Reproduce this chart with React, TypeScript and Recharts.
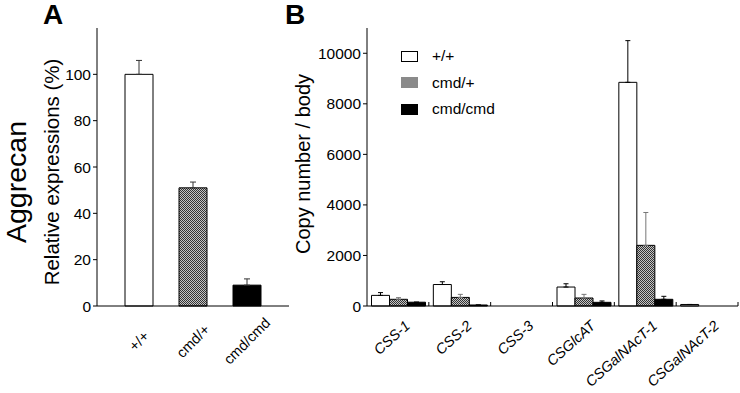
import React from 'react';
import { BarChart, Bar, XAxis, YAxis, Cell, ErrorBar, Legend } from 'recharts';

// Panel A: aggrecan, relative expression (%)
const genotypes = ['+/+', 'cmd/+', 'cmd/cmd'];
const aggrecanValues = [100, 51, 9];
const aggrecanErrors = [6, 2.5, 2.7];
const aggrecanTicks = [0, 20, 40, 60, 80, 100];

// Panel B: copy number / body per gene
const genes = ['CSS-1', 'CSS-2', 'CSS-3', 'CSGlcAT', 'CSGalNAcT-1', 'CSGalNAcT-2'];
const wildType = [420, 850, 0, 750, 8850, 60];
const wildTypeErr = [110, 110, 0, 130, 1650, 0];
const heterozygous = [265, 340, 0, 316, 2400, 0];
const heterozygousErr = [65, 120, 0, 144, 1300, 0];
const homozygous = [150, 40, 0, 145, 265, 0];
const homozygousErr = [0, 0, 0, 55, 118, 0];
const copyTicks = [0, 2000, 4000, 6000, 8000, 10000];

const FONT = '"Liberation Sans", Arial, Helvetica, sans-serif';

const aggrecanData = genotypes.map((g, i) => ({
  name: g,
  value: aggrecanValues[i],
  err: [0, aggrecanErrors[i]],
}));
const aggrecanFills = ['#fff', 'url(#dotsA)', '#000'];

const geneData = genes.map((g, i) => ({
  name: g,
  wt: wildType[i],
  wtErr: [0, wildTypeErr[i]],
  het: heterozygous[i],
  hetErr: [0, heterozygousErr[i]],
  hom: homozygous[i],
  homErr: [0, homozygousErr[i]],
}));

const series = [
  { key: 'wt', err: 'wtErr', name: '+/+', fill: '#fff', legend: '#fff', errColor: '#000' },
  { key: 'het', err: 'hetErr', name: 'cmd/+', fill: 'url(#dotsB)', legend: '#8a8a8a', errColor: '#777' },
  { key: 'hom', err: 'homErr', name: 'cmd/cmd', fill: '#000', legend: '#000', errColor: '#000' },
];

const Dots = ({ id }: { id: string }) => (
  <defs>
    <pattern id={id} width={2} height={2} patternUnits="userSpaceOnUse">
      <rect width={2} height={2} fill="#c4c4c4" />
      <rect width={1} height={1} fill="#333" />
      <rect x={1} y={1} width={1} height={1} fill="#333" />
    </pattern>
  </defs>
);

const GenotypeTick = ({ x, y, payload }: any) => (
  <text
    x={x}
    y={y + 35}
    textAnchor="middle"
    dominantBaseline="central"
    transform={`rotate(-45, ${x}, ${y + 35})`}
    fontSize={14.5}
    fill="#000"
  >
    {payload.value}
  </text>
);

// tick marks sit on the boundaries between genes, labels hang off the centre
const GeneTick = ({ x, y, payload }: any) => {
  const half = payload.offset ?? 0;
  const tx = x + 13;
  const ty = y + 21;
  return (
    <g>
      <line x1={x + half} x2={x + half} y1={y} y2={y - 4} stroke="#000" />
      <text
        x={tx}
        y={ty}
        textAnchor="end"
        fontStyle="italic"
        fontSize={14.5}
        fill="#000"
        transform={`rotate(-42, ${tx}, ${ty})`}
      >
        {payload.value}
      </text>
    </g>
  );
};

const LegendBox = () => (
  <div style={{ fontFamily: FONT, fontSize: 15.5, color: '#000' }}>
    {series.map((s) => (
      <div key={s.key} style={{ height: 26.5, display: 'flex', alignItems: 'center' }}>
        <span
          style={{
            display: 'inline-block',
            width: 17,
            height: 11,
            boxSizing: 'border-box',
            background: s.legend,
            border: s.key === 'wt' ? '1px solid #000' : 'none',
            marginRight: 14,
          }}
        />
        <span>{s.name}</span>
      </div>
    ))}
  </div>
);

export default function App() {
  return (
    <div style={{ position: 'absolute', left: 0, top: 0, width: 740, height: 393, background: '#fff', fontFamily: FONT }}>
      <div style={{ position: 'absolute', left: 0, top: 0 }}>
        <BarChart width={300} height={393} data={aggrecanData} margin={{ top: 28, right: 11, bottom: 27, left: 0 }}>
          <Dots id="dotsA" />
          <XAxis
            dataKey="name"
            axisLine={{ stroke: '#000' }}
            tickLine={false}
            tickSize={0}
            tickMargin={0}
            height={60}
            interval={0}
            padding={{ left: 15, right: 15 }}
            tick={<GenotypeTick />}
          />
          <YAxis
            width={97}
            domain={[0, 120]}
            ticks={aggrecanTicks}
            axisLine={{ stroke: '#000' }}
            tickLine={{ stroke: '#000' }}
            tickSize={4}
            tickMargin={2}
            tick={{ fill: '#000', fontSize: 15.5 }}
          />
          <Bar dataKey="value" barSize={28} stroke="#000" strokeWidth={1} isAnimationActive={false}>
            {aggrecanData.map((d, i) => (
              <Cell key={d.name} fill={aggrecanFills[i]} />
            ))}
            <ErrorBar dataKey="err" width={3} stroke="#333" strokeWidth={1} direction="y" />
          </Bar>
        </BarChart>
      </div>

      <div style={{ position: 'absolute', left: 290, top: 0 }}>
        <BarChart
          width={450}
          height={393}
          data={geneData}
          margin={{ top: 28, right: 2, bottom: 27, left: 0 }}
          barCategoryGap={4.5}
          barGap={0}
        >
          <Dots id="dotsB" />
          <XAxis
            dataKey="name"
            axisLine={{ stroke: '#000' }}
            tickLine={false}
            tickSize={0}
            tickMargin={0}
            height={60}
            interval={0}
            tick={<GeneTick />}
          />
          <YAxis
            width={77}
            domain={[0, 11000]}
            ticks={copyTicks}
            axisLine={{ stroke: '#000' }}
            tickLine={{ stroke: '#000' }}
            tickSize={4}
            tickMargin={2}
            tick={{ fill: '#000', fontSize: 15.5 }}
          />
          <Legend
            layout="vertical"
            align="center"
            verticalAlign="middle"
            content={<LegendBox />}
            wrapperStyle={{ left: 111, top: 43, width: 'auto', height: 'auto' }}
          />
          {series.map((s) => (
            <Bar key={s.key} dataKey={s.key} name={s.name} fill={s.fill} stroke="#000" strokeWidth={1} isAnimationActive={false}>
              <ErrorBar dataKey={s.err} width={2.5} stroke={s.errColor} strokeWidth={1} direction="y" />
            </Bar>
          ))}
        </BarChart>
      </div>

      <svg width={740} height={393} style={{ position: 'absolute', left: 0, top: 0, pointerEvents: 'none' }}>
        <text x={43} y={24} fontSize={28} fontWeight="bold" fill="#000">A</text>
        <text x={285} y={24} fontSize={28} fontWeight="bold" fill="#000">B</text>
        <text x={26} y={182} fontSize={28.5} textAnchor="middle" transform="rotate(-90, 26, 182)" fill="#000">
          Aggrecan
        </text>
        <text x={51} y={172} fontSize={20.5} textAnchor="middle" dominantBaseline="central" transform="rotate(-90, 51, 172)" fill="#000">
          Relative expressions (%)
        </text>
        <text x={303} y={164} fontSize={20} textAnchor="middle" dominantBaseline="central" transform="rotate(-90, 303, 164)" fill="#000">
          Copy number / body
        </text>
      </svg>
    </div>
  );
}
